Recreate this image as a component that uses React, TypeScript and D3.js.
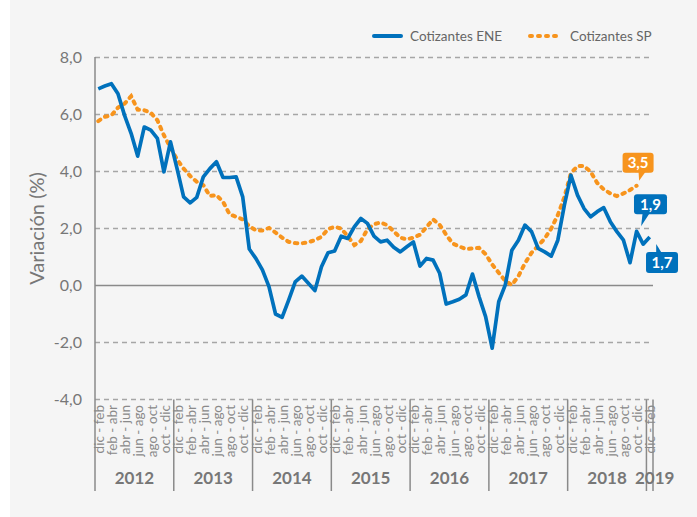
import * as d3 from 'd3';

// Rolling three-month periods, monthly
const quarters = [
  'dic - feb', 'ene - mar', 'feb - abr', 'mar - may', 'abr - jun', 'may - jul',
  'jun - ago', 'jul - sep', 'ago - oct', 'sep - nov', 'oct - dic', 'nov - ene',
];
const years = ['2012', '2013', '2014', '2015', '2016', '2017', '2018', '2019'];
const monthsInYear = [12, 12, 12, 12, 12, 12, 12, 1];

const cotizantesENE = [
  6.9, 7.0, 7.08, 6.73, 5.97, 5.34, 4.54, 5.56, 5.45, 5.16, 3.99, 5.04,
  4.1, 3.11, 2.9, 3.09, 3.81, 4.1, 4.34, 3.79, 3.79, 3.81, 3.11, 1.28,
  0.95, 0.55, -0.04, -1.0, -1.12, -0.51, 0.13, 0.33, 0.08, -0.18, 0.66, 1.15,
  1.21, 1.73, 1.65, 2.06, 2.35, 2.18, 1.73, 1.53, 1.59, 1.34, 1.18, 1.36,
  1.53, 0.68, 0.95, 0.89, 0.43, -0.65, -0.57, -0.48, -0.33, 0.4, -0.39, -1.09,
  -2.2, -0.57, 0.02, 1.24, 1.59, 2.12, 1.89, 1.3, 1.18, 1.03, 1.59, 2.82,
  3.87, 3.17, 2.7, 2.41, 2.59, 2.73, 2.24, 1.89, 1.59, 0.8, 1.9, 1.45,
  1.7,
];
const cotizantesSP = [
  5.77, 5.92, 5.97, 6.24, 6.38, 6.64, 6.17, 6.15, 6.06, 5.8, 5.27, 4.84,
  4.42, 4.1, 3.84, 3.64, 3.52, 3.14, 3.17, 2.94, 2.5, 2.41, 2.32, 2.08,
  1.94, 1.93, 2.02, 1.86, 1.68, 1.53, 1.49, 1.48, 1.52, 1.59, 1.71, 1.98,
  2.06, 2.0, 1.73, 1.42, 1.56, 1.97, 2.15, 2.21, 2.12, 1.9, 1.68, 1.62,
  1.68, 1.78, 2.05, 2.32, 2.13, 1.78, 1.47, 1.37, 1.28, 1.3, 1.32, 1.1,
  0.74, 0.45, 0.16, 0.02, 0.33, 0.78, 1.15, 1.39, 1.65, 2.0, 2.47, 3.1,
  3.95, 4.19, 4.19, 3.99, 3.6, 3.37, 3.23, 3.14, 3.23, 3.35, 3.5,
];
const yTicks = [-4, -2, 0, 2, 4, 6, 8];

const BLUE = '#0071bc';
const ORANGE = '#f7941d';
const GREY = '#777';
const FONT = 'Lato, "Open Sans", sans-serif';

const fmt = (v: number) => v.toFixed(1).replace('.', ',');

export default function App() {
  const periods: { key: string; label: string; year: string; m: number }[] = [];
  years.forEach((yr, yi) => {
    for (let m = 0; m < monthsInYear[yi]; m++) {
      periods.push({ key: `${yr}-${m}`, label: quarters[m], year: yr, m });
    }
  });

  const left = 95;
  const right = 653;
  const x = d3.scaleBand<string>().domain(periods.map(p => p.key)).range([left, right]);
  const cx = (i: number) => (x(periods[i].key) || 0) + x.bandwidth() / 2;
  const y = d3.scaleLinear().domain([-4, 8]).range([399.5, 57.5]);

  const line = d3.line<number>().x((_, i) => cx(i)).y(d => y(d));

  // year boundaries
  const yearStarts: number[] = [];
  let acc = 0;
  monthsInYear.forEach(n => { yearStarts.push(acc); acc += n; });
  const bx = (idx: number) => (idx >= periods.length ? right : (x(periods[idx].key) || 0));

  const lastB = cotizantesENE.length - 1;
  const lastO = cotizantesSP.length - 1;
  const oX = cx(lastO), oY = y(cotizantesSP[lastO]);
  const b1X = cx(lastO), b1Y = y(cotizantesENE[lastO]);
  const b2X = cx(lastB), b2Y = y(cotizantesENE[lastB]);

  return (
    <svg width={697} height={517} style={{ position: 'absolute', left: 0, top: 0 }} fontFamily={FONT}>
      <rect x={0} y={0} width={697} height={517} fill="#fff" />
      <rect x={10} y={0} width={687} height={517} fill="#f5f5f5" />

      {/* grid */}
      {yTicks.map(t => (
        <g key={t}>
          <line x1={left} x2={right} y1={y(t)} y2={y(t)}
            stroke={t === 0 ? '#8a8a8a' : '#a6a6a6'} strokeWidth={t === 0 ? 1.5 : 1.3}
            strokeDasharray={t === 0 ? undefined : '5 4'} />
          <text x={82} y={y(t)} dy="0.35em" textAnchor="end" fontSize={16} fill={GREY}>{fmt(t)}</text>
        </g>
      ))}

      {/* y axis title */}
      <text transform={`translate(44, ${y(2)}) rotate(-90)`} textAnchor="middle" fontSize={20} fill={GREY}>Variación (%)</text>

      {/* axis line and year dividers */}
      <line x1={left} x2={left} y1={57} y2={491} stroke="#8a8a8a" strokeWidth={1.5} />
      {yearStarts.slice(1).concat([periods.length]).map(s => (
        <line key={s} x1={bx(s)} x2={bx(s)} y1={399.5} y2={491} stroke="#8a8a8a" strokeWidth={1.5} />
      ))}

      {/* period labels */}
      {periods.map((p, i) => (p.m % 2 === 0 ? (
        <text key={p.key} transform={`translate(${cx(i) + 1}, 405) rotate(-90)`} dy="0.35em"
          textAnchor="end" fontSize={13.5} fill="#8a8a8a">{p.label}</text>
      ) : null))}

      {/* year labels */}
      {years.map((yr, yi) => {
        const s = yearStarts[yi];
        const e = s + monthsInYear[yi];
        const mid = (bx(s) + bx(e)) / 2 + (monthsInYear[yi] === 1 ? 5 : 0);
        return (
          <text key={yr} x={mid} y={484} textAnchor="middle" fontSize={17} fontWeight="bold" fill={GREY}>{yr}</text>
        );
      })}

      {/* series */}
      <path d={line(cotizantesSP) || ''} fill="none" stroke={ORANGE} strokeWidth={4}
        strokeDasharray="2.5 5.5" strokeLinecap="round" />
      <path d={line(cotizantesENE) || ''} fill="none" stroke={BLUE} strokeWidth={3.7}
        strokeLinejoin="round" />

      {/* callouts */}
      <g>
        <rect x={oX - 14} y={oY - 33} width={31} height={20} rx={3} fill={ORANGE} />
        <path d={`M${oX + 2},${oY - 14} L${oX + 9},${oY - 14} L${oX + 2.5},${oY - 5} Z`} fill={ORANGE} />
        <text x={oX + 1.5} y={oY - 23} dy="0.36em" textAnchor="middle" fontSize={15} fontWeight="bold" fill="#fff">{fmt(cotizantesSP[lastO])}</text>
      </g>
      <g>
        <rect x={b1X - 2.6} y={b1Y - 37} width={33} height={20} rx={3} fill={BLUE} />
        <path d={`M${b1X + 6},${b1Y - 18} L${b1X + 13},${b1Y - 18} L${b1X + 4.5},${b1Y - 5} Z`} fill={BLUE} />
        <text x={b1X + 13.9} y={b1Y - 27} dy="0.36em" textAnchor="middle" fontSize={15} fontWeight="bold" fill="#fff">{fmt(cotizantesENE[lastO])}</text>
      </g>
      <g>
        <rect x={b2X - 3.7} y={b2Y + 15} width={32} height={21} rx={3} fill={BLUE} />
        <path d={`M${b2X + 6.5},${b2Y + 16} L${b2X + 12},${b2Y + 16} L${b2X + 6.5},${b2Y + 7} Z`} fill={BLUE} />
        <text x={b2X + 12.3} y={b2Y + 25.5} dy="0.36em" textAnchor="middle" fontSize={15} fontWeight="bold" fill="#fff">{fmt(cotizantesENE[lastB])}</text>
      </g>

      {/* legend */}
      <line x1={374} x2={401} y1={36} y2={36} stroke={BLUE} strokeWidth={4} strokeLinecap="round" />
      <text x={410} y={36} dy="0.35em" fontSize={13.5} fill="#666">Cotizantes ENE</text>
      <line x1={530} x2={557} y1={36} y2={36} stroke={ORANGE} strokeWidth={4} strokeLinecap="round" strokeDasharray="2 6" />
      <text x={570} y={36} dy="0.35em" fontSize={13.5} fill="#666">Cotizantes SP</text>
    </svg>
  );
}
